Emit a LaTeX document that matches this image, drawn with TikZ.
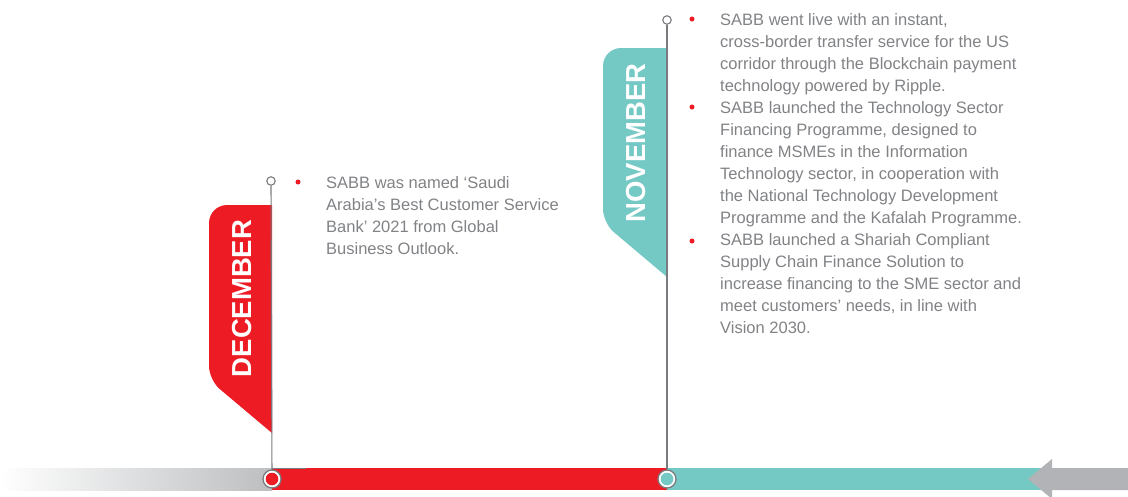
\documentclass[tikz,border=0pt]{standalone}
\usepackage{fontspec}
\setmainfont{Liberation Sans}
\usepackage{tikz}
\usetikzlibrary{positioning}

\definecolor{decred}{HTML}{ED1C24}
\definecolor{novteal}{HTML}{74C9C5}
\definecolor{linegray}{HTML}{7A7B7E}
\definecolor{bargray}{HTML}{BCBEC0}
\definecolor{arrowgray}{HTML}{B1B3B6}
\definecolor{textgray}{HTML}{808285}

\begin{document}
\begin{tikzpicture}[
	x=1pt,y=-1pt,
	pin/.style={
		circle,
		draw=linegray,
		line width=1.3pt,
		fill=white,
		inner sep=0pt,
		minimum size=18pt,
		path picture={\fill[#1] (path picture bounding box.center) circle (6.3pt);}},
	knob/.style={
		circle,
		draw=linegray,
		line width=1.1pt,
		fill=white,
		inner sep=0pt,
		minimum size=8.5pt},
	bullet/.style={circle,fill=decred,inner sep=0pt,minimum size=5pt},
	monthtext/.style={
		rotate=90,
		text=white,
		font=\fontsize{27.5}{27.5}\selectfont\bfseries},
	newstext/.style={
		anchor=north west,
		inner sep=0pt,
		align=left,
		text=textgray,
		font=\fontsize{16.5}{22}\selectfont},
	stem/.style={draw=linegray,line width=1.1pt}
	]
	\useasboundingbox (0,0) rectangle (1128,496);

	% timeline bar
	\shade[left color=white,right color=bargray] (0,468) rectangle (272,490);
	\fill[decred] (272,468) rectangle (667,490);
	\fill[novteal] (667,468) rectangle (1045,490);
	\fill[arrowgray] (1128,468) -- (1052,468) -- (1052,459) -- (1028,479)
		-- (1052,499) -- (1052,490) -- (1128,490) -- cycle;
	\draw[linegray,line width=0.8pt] (272,468.4) -- (306,468.4);

	% month flags
	\fill[decred] (272,205) [rounded corners=18pt] -- (209,205)
		[rounded corners=14pt] -- (209,380) [sharp corners] -- (272,433) -- cycle;
	\fill[novteal] (667,48) [rounded corners=18pt] -- (603,48)
		[rounded corners=14pt] -- (603,223) [sharp corners] -- (667,277) -- cycle;
	\node[monthtext] (dec) at (242,298.5) {DECEMBER};
	\node[monthtext] (nov) at (636,143) {NOVEMBER};

	% stems
	\node[knob] (dectop) at (271,181) {};
	\node[knob] (novtop) at (667,20) {};
	\node[pin=decred] (decpin) at (272,479) {};
	\node[pin=novteal] (novpin) at (667,479) {};
	\draw[stem] (dectop) -- (decpin);
	\draw[stem] (novtop) -- (novpin);

	% news items
	\foreach \n/\x/\y in {b1/298/182, b2/692/19, b3/692/107, b4/692/241}
		\node[bullet] (\n) at (\x,\y) {};

	\node[newstext] (decnews) at (326,176.5) {SABB was named ‘Saudi\\
		Arabia’s Best Customer Service\\
		Bank’ 2021 from Global\\
		Business Outlook.};
	\node[newstext] (novnews) at (720,13.5) {SABB went live with an instant,\\
		cross-border transfer service for the US\\
		corridor through the Blockchain payment\\
		technology powered by Ripple.\\
		SABB launched the Technology Sector\\
		Financing Programme, designed to\\
		finance MSMEs in the Information\\
		Technology sector, in cooperation with\\
		the National Technology Development\\
		Programme and the Kafalah Programme.\\
		SABB launched a Shariah Compliant\\
		Supply Chain Finance Solution to\\
		increase financing to the SME sector and\\
		meet customers’ needs, in line with\\
		Vision 2030.};
\end{tikzpicture}
\end{document}
